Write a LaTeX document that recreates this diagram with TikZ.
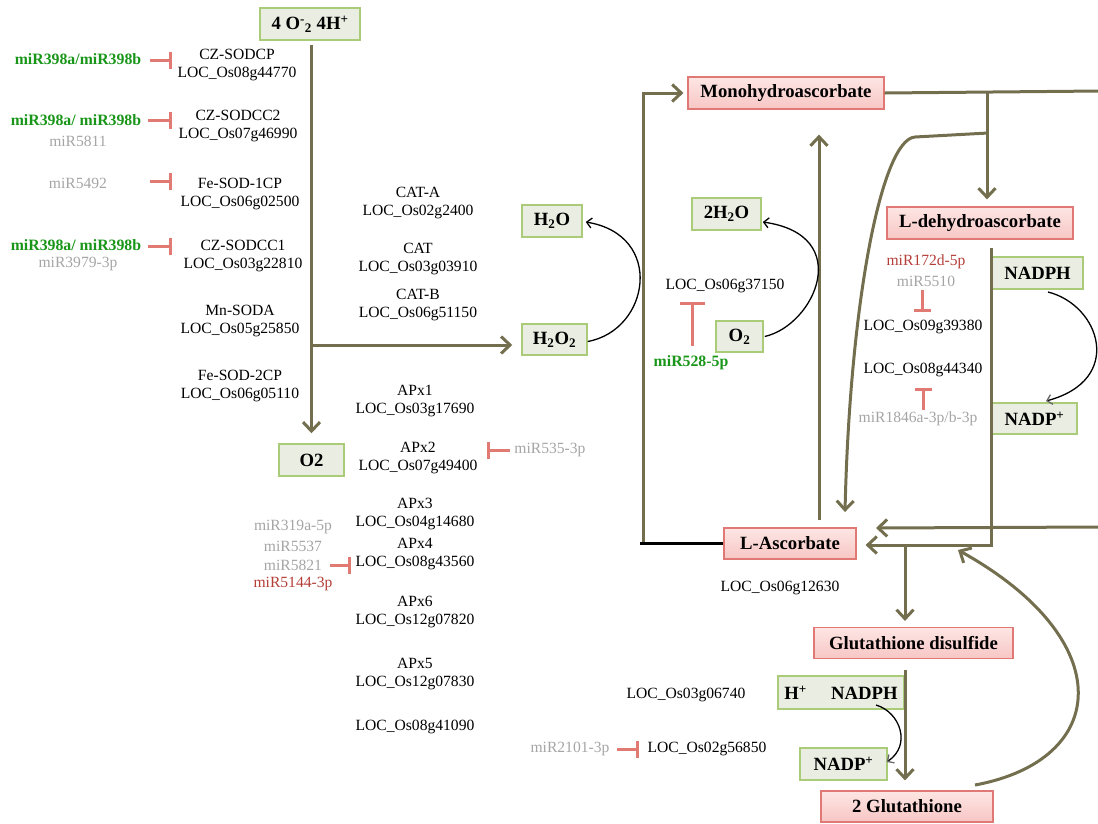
\documentclass[tikz,border=0pt]{standalone}
\usepackage{fontspec}
\setmainfont{Liberation Serif}
\usetikzlibrary{arrows.meta}
\definecolor{oliv}{RGB}{115,110,78}
\definecolor{gfill}{RGB}{234,238,226}
\definecolor{gbd}{RGB}{170,204,120}
\definecolor{ptop}{RGB}{253,230,228}
\definecolor{pbot}{RGB}{247,198,196}
\definecolor{pbd}{RGB}{224,120,118}
\definecolor{inhc}{RGB}{226,122,116}
\definecolor{mgreen}{RGB}{25,150,25}
\definecolor{mgray}{RGB}{165,165,165}
\definecolor{mred}{RGB}{180,62,56}
\begin{document}
\begin{tikzpicture}[x=1pt,y=-1pt,
  gbox/.style={draw=gbd, fill=gfill, line width=1.5pt, inner sep=0pt, minimum height=32pt,
    font=\fontsize{18.7}{20}\selectfont\bfseries},
  pbox/.style={draw=pbd, top color=ptop, bottom color=pbot, line width=1.2pt, inner sep=0pt,
    minimum height=32pt, font=\fontsize{18.7}{20}\selectfont\bfseries},
  lbl/.style={font=\fontsize{15.6}{18}\selectfont, align=center, inner sep=0pt},
  mg/.style={lbl, text=mgreen, font=\fontsize{15.8}{18}\selectfont\bfseries},
  mgr/.style={lbl, text=mgray},
  mrd/.style={lbl, text=mred},
  flow/.style={draw=oliv, line width=3pt},
  flowa/.style={flow, -{Straight Barb[length=9pt,width=17pt]}},
  rx/.style={draw=black, line width=1.3pt, -{Straight Barb[length=5pt,width=10pt]}},
  inh/.style={draw=inhc, line width=3pt, -{Bar[width=17pt]}}]
\useasboundingbox (0,0) rectangle (1098,823);

% ---------- boxes ----------
\node[gbox, minimum width=100pt] (top) at (310,24) {4 O\textsuperscript{-}\textsubscript{2} 4H\textsuperscript{+}};
\node[gbox, minimum width=65pt] (o2l) at (311.5,460) {O2};
\node[gbox, minimum width=60pt] (h2o) at (552,221) {H\textsubscript{2}O};
\node[gbox, minimum width=65pt, minimum height=31pt] (h2o2) at (554.5,339.5) {H\textsubscript{2}O\textsubscript{2}};
\node[gbox, minimum width=69pt] (h2o2b) at (726.5,214) {2H\textsubscript{2}O};
\node[gbox, minimum width=47pt, minimum height=31pt] (o2m) at (739.5,336.5) {O\textsubscript{2}};
\node[pbox, minimum width=196pt] (mono) at (786,93) {Monohydroascorbate};
\node[pbox, minimum width=186pt] (ldh) at (980,223) {L-dehydroascorbate};
\node[gbox, minimum width=91pt] (nadph) at (1037.5,273) {NADPH};
\node[gbox, minimum width=85pt, minimum height=31pt] (nadp) at (1034.5,418.5) {NADP\textsuperscript{+}};
\node[pbox, minimum width=132pt, minimum height=31pt] (lasc) at (790,543.5) {L-Ascorbate};
\node[pbox, minimum width=199pt, minimum height=31pt] (gssg) at (913.5,643) {Glutathione disulfide};
\node[gbox, minimum width=126pt, minimum height=33pt] (hnadph) at (841,692.5) {H\textsuperscript{+}\hspace{1.3em}NADPH};
\node[gbox, minimum width=87pt] (nadpl) at (843.5,764) {NADP\textsuperscript{+}};
\node[pbox, minimum width=172pt, minimum height=31pt] (gsh) at (907,806.5) {2 Glutathione};

% ---------- SOD genes ----------
\node[lbl] (g1) at (237,65.5) {CZ-SODCP\\LOC\_Os08g44770};
\node[lbl] (g2) at (238,126) {CZ-SODCC2\\LOC\_Os07g46990};
\node[lbl] (g3) at (240,194) {Fe-SOD-1CP\\LOC\_Os06g02500};
\node[lbl] (g4) at (243,256.5) {CZ-SODCC1\\LOC\_Os03g22810};
\node[lbl] (g5) at (240,321) {Mn-SODA\\LOC\_Os05g25850};
\node[lbl] (g6) at (240,386.5) {Fe-SOD-2CP\\LOC\_Os06g05110};

\node[mg] (m1) at (78,59) {miR398a/miR398b};
\node[mg] (m2) at (76,120) {miR398a/ miR398b};
\node[mgr] (m2b) at (78,141) {miR5811};
\node[mgr] (m3) at (78,183) {miR5492};
\node[mg] (m4) at (76,245) {miR398a/ miR398b};
\node[mgr] (m4b) at (78,264) {miR3979-3p};

% ---------- CAT / APX genes ----------
\node[lbl] (c1) at (418,203) {CAT-A\\LOC\_Os02g2400};
\node[lbl] (c2) at (418,259) {CAT\\LOC\_Os03g03910};
\node[lbl] (c3) at (418,305) {CAT-B\\LOC\_Os06g51150};
\node[lbl] (a1) at (415,401) {APx1\\LOC\_Os03g17690};
\node[lbl] (a2) at (418,458.5) {APx2\\LOC\_Os07g49400};
\node[lbl] (a3) at (415,514) {APx3\\LOC\_Os04g14680};
\node[lbl] (a4) at (415,554) {APx4\\LOC\_Os08g43560};
\node[lbl] (a6) at (415,612.5) {APx6\\LOC\_Os12g07820};
\node[lbl] (a5) at (415,674) {APx5\\LOC\_Os12g07830};
\node[lbl] (a7) at (415,727) {LOC\_Os08g41090};
\node[mgr] (m535) at (550,450) {miR535-3p};
\node[mgr] (m319) at (293,527) {miR319a-5p};
\node[mgr] (m5537) at (293,546) {miR5537};
\node[mgr] (m5821) at (293,565) {miR5821};
\node[mrd] (m5144) at (293,584) {miR5144-3p};

% ---------- right-hand labels ----------
\node[lbl] (l37150) at (725,286) {LOC\_Os06g37150};
\node[mg] (m528) at (691,363) {miR528-5p};
\node[mrd] (m172) at (926,262) {miR172d-5p};
\node[mgr] (m5510) at (926,281) {miR5510};
\node[lbl] (l39380) at (923,327) {LOC\_Os09g39380};
\node[lbl] (l44340) at (923,370) {LOC\_Os08g44340};
\node[mgr] (m1846) at (918,419) {miR1846a-3p/b-3p};
\node[lbl] (l12630) at (780,588) {LOC\_Os06g12630};
\node[lbl] (l06740) at (686,695) {LOC\_Os03g06740};
\node[mgr] (m2101) at (570,749) {miR2101-3p};
\node[lbl] (l56850) at (707,749) {LOC\_Os02g56850};

% ---------- olive flow lines ----------
\draw[flowa, shorten <=4pt, shorten >=10pt] (o2l.north |- top.south) -- (o2l.north);
\coordinate (br) at (311.5,345);
\draw[flowa, shorten >=9pt] (br) -- (br -| h2o2.west);

\draw[flowa, shorten >=4pt] (643,543) -- (643,0 |- mono.west) -- (mono.west);
\draw[line width=3pt, black] (lasc.west) -- (640,0 |- lasc.west);
\draw[flowa, shorten <=7pt, shorten >=25pt] (819,0 |- lasc.north) -- (819,0 |- mono.south);
\draw[flow] (mono.east) -- (1100,91);
\draw[flowa, shorten >=7pt] (987,92) -- (987,0 |- ldh.north);
\draw[flowa] (988,133) -- (915,137) .. controls (882,139) and (850,300) .. (845,512);
\draw[flowa, shorten >=9pt] (991,248) -- (991,545) -- (lasc.east |- 0,545);
\draw[flowa] (1100,527) -- (876,528);
\draw[flowa, shorten >=6pt] (905,545) -- (905,0 |- gssg.north);
\draw[flowa, shorten <=11pt, shorten >=10pt] (905,0 |- gssg.south) -- (905,0 |- gsh.north);
\draw[flowa] (975,785) .. controls (1110,760) and (1120,640) .. (958,550);

% ---------- black reaction curves ----------
\draw[rx] ([yshift=-2pt]h2o2.east) .. controls (650,330) and (665,235) .. ([xshift=3pt,yshift=-1pt]h2o.east);
\draw[rx] ([xshift=1pt]o2m.east) .. controls (815,325) and (855,235) .. ([xshift=1pt,yshift=-8pt]h2o2b.east);
\draw[rx, -{Straight Barb[length=5pt,width=10pt,color=black!60]}] (1048,292) .. controls (1100,305) and (1125,380) .. (1046,401);
\draw[rx, -{Straight Barb[length=5pt,width=10pt,color=black!60]}] (876,705) .. controls (900,712) and (912,745) .. ([xshift=-1pt,yshift=2pt]nadpl.east);

% ---------- inhibitions ----------
\draw[inh] (150,60) -- (172,60);
\draw[inh] (148,120) -- (172,120);
\draw[inh] (150,181) -- (172,181);
\draw[inh] (148,246) -- (172,246);
\draw[inh] (330,565) -- (351,565);
\draw[inh] (510,450) -- (487,450);
\draw[inh] (617,749) -- (639,749);
\draw[inh] (922,290) -- (922,312);
\draw[inh] (923,410) -- (923,388);
\draw[draw=inhc, line width=3pt, -{Bar[width=25pt]}] (692,346) -- (692,302);
\end{tikzpicture}
\end{document}
